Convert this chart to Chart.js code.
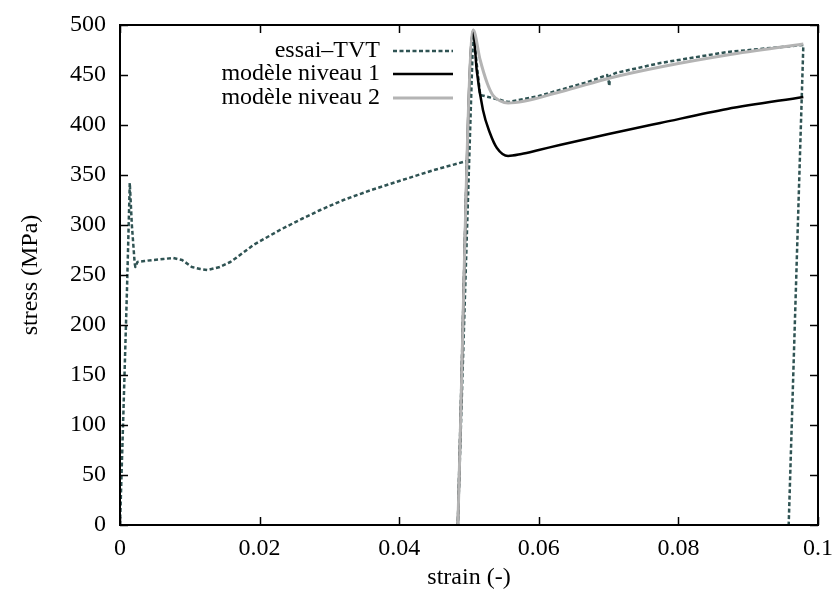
<!DOCTYPE html>
<html>
<head>
<meta charset="utf-8">
<script src="https://cdn.jsdelivr.net/npm/chart.js@4.4.1/dist/chart.umd.min.js"></script>
<style>
  html, body { margin: 0; padding: 0; background: #fff; }
  #wrap { width: 834px; height: 595px; }
</style>
</head>
<body>
<div id="wrap"><canvas id="myChart" width="834" height="595"></canvas></div>
<script>
// --- Data ---
const essaiStrain = [0, 0.0005, 0.0010, 0.0014, 0.0017, 0.0021, 0.0022, 0.0025, 0.0035, 0.0047,
  0.0062, 0.0076, 0.0089, 0.0103, 0.0115, 0.0125, 0.0143, 0.0158, 0.0168, 0.0191,
  0.0229, 0.0260, 0.0287, 0.0320, 0.0360, 0.0400, 0.0450, 0.0497, 0.0484, 0.0506,
  0.0516, 0.0534, 0.0556, 0.0600, 0.0630, 0.0670, 0.0698, 0.0700, 0.0701, 0.0702,
  0.0710, 0.0774, 0.0870, 0.0979, 0.0958];
const essaiStress = [0, 115, 235, 342, 300, 262, 258, 263, 264, 265,
  266, 267, 265, 258, 256, 255, 258, 263, 268, 280,
  295, 306, 315, 325, 335, 344, 355, 364, 0, 493,
  430, 427, 423, 429, 435, 443, 450, 444, 439, 449,
  452, 462, 473, 480, 0];

const niveau1Strain = [0.0484, 0.0506, 0.0511, 0.0520, 0.0530, 0.0540, 0.0556, 0.0575, 0.0600, 0.0630, 0.0700, 0.0774, 0.0870, 0.0979];
const niveau1Stress = [0, 495, 455, 415, 392, 377, 369, 371, 375, 380, 391, 402, 416, 428];

const niveau2Strain = [0.0484, 0.0506, 0.0516, 0.0526, 0.0534, 0.0545, 0.0556, 0.0630, 0.0702, 0.0774, 0.0870, 0.0979];
const niveau2Stress = [0, 495, 465, 442, 430, 424, 422, 433, 447, 458, 470, 481];

const xTicks = [0, 0.02, 0.04, 0.06, 0.08, 0.1];
const xTickLabels = ["0", "0.02", "0.04", "0.06", "0.08", "0.1"];
const yTicks = [0, 50, 100, 150, 200, 250, 300, 350, 400, 450, 500];

const toPoints = (xs, ys) => xs.map((v, i) => ({ x: v, y: ys[i] }));

const FONT = "'Liberation Serif', 'Times New Roman', serif";
const ctx = document.getElementById("myChart").getContext("2d");

// --- gnuplot-like frame with inward ticks ---
const framePlugin = {
  id: "frame",
  afterDatasetsDraw(chart) {
    const c = chart.ctx;
    const { left, right, top, bottom } = chart.chartArea;
    const sx = chart.scales.x, sy = chart.scales.y;
    c.save();
    c.strokeStyle = "#000";
    c.lineWidth = 1.5;
    const seg = (x1, y1, x2, y2) => { c.beginPath(); c.moveTo(x1, y1); c.lineTo(x2, y2); c.stroke(); };
    xTicks.forEach((v) => {
      const px = Math.round(sx.getPixelForValue(v)) + 0.5;
      seg(px, bottom, px, bottom - 8);
      seg(px, top, px, top + 8);
    });
    yTicks.forEach((v) => {
      const py = Math.round(sy.getPixelForValue(v)) + 0.5;
      seg(left, py, left + 8, py);
      seg(right, py, right - 8, py);
    });
    c.lineWidth = 2;
    c.strokeRect(left, top, right - left, bottom - top);
    c.restore();
  },
};

// --- legend: right-aligned text, sample line on the right ---
const legendPlugin = {
  id: "keyBox",
  afterDraw(chart) {
    const c = chart.ctx;
    const rows = [51, 74, 98];
    c.save();
    c.font = "24px " + FONT;
    c.textAlign = "right";
    c.textBaseline = "middle";
    c.fillStyle = "#000";
    chart.data.datasets.forEach((ds, i) => {
      const y = rows[i];
      c.fillText(ds.label, 380, y);
      c.strokeStyle = ds.borderColor;
      c.lineWidth = ds.borderWidth;
      c.setLineDash(ds.borderDash || []);
      c.beginPath();
      c.moveTo(393, y);
      c.lineTo(453, y);
      c.stroke();
    });
    c.restore();
  },
};

new Chart(ctx, {
  type: "scatter",
  data: {
    datasets: [
      {
        label: "essai\u2013TVT",
        data: toPoints(essaiStrain, essaiStress),
        borderColor: "#2f5353",
        borderWidth: 2.5,
        borderDash: [4, 2.5],
        borderJoinStyle: "round",
        showLine: true,
        pointRadius: 0,
        tension: 0,
        order: 3,
      },
      {
        label: "mod\u00e8le niveau 1",
        data: toPoints(niveau1Strain, niveau1Stress),
        borderColor: "#000000",
        borderWidth: 2.5,
        borderJoinStyle: "round",
        showLine: true,
        pointRadius: 0,
        cubicInterpolationMode: "monotone",
        order: 2,
      },
      {
        label: "mod\u00e8le niveau 2",
        data: toPoints(niveau2Strain, niveau2Stress),
        borderColor: "#b4b4b4",
        borderWidth: 3,
        borderJoinStyle: "round",
        showLine: true,
        pointRadius: 0,
        cubicInterpolationMode: "monotone",
        order: 1,
      },
    ],
  },
  options: {
    responsive: false,
    animation: false,
    layout: { padding: { top: 25, right: 16, left: 0, bottom: 0 } },
    plugins: { legend: { display: false }, tooltip: { enabled: false } },
    scales: {
      x: {
        type: "linear",
        min: 0,
        max: 0.1,
        afterBuildTicks: (s) => { s.ticks = xTicks.map((v) => ({ value: v })); },
        afterFit: (s) => { s.height = 70; s.paddingLeft = 0; s.paddingRight = 0; },
        grid: { display: false, drawTicks: false },
        border: { display: false },
        ticks: {
          color: "#000",
          font: { family: FONT, size: 24 },
          padding: 9,
          maxRotation: 0,
          callback: (v, i) => xTickLabels[i],
        },
        title: {
          display: true,
          text: "strain (-)",
          color: "#000",
          font: { family: FONT, size: 24 },
          padding: { top: 0, bottom: 3 },
        },
      },
      y: {
        type: "linear",
        min: 0,
        max: 500,
        afterBuildTicks: (s) => { s.ticks = yTicks.map((v) => ({ value: v })); },
        afterFit: (s) => { s.width = 120; s.paddingTop = 0; s.paddingBottom = 0; },
        grid: { display: false, drawTicks: false },
        border: { display: false },
        ticks: {
          color: "#000",
          font: { family: FONT, size: 24 },
          padding: 14,
        },
        title: {
          display: true,
          text: "stress (MPa)",
          color: "#000",
          font: { family: FONT, size: 24 },
          padding: { top: 16, bottom: 0 },
        },
      },
    },
  },
  plugins: [framePlugin, legendPlugin],
});
</script>
</body>
</html>
